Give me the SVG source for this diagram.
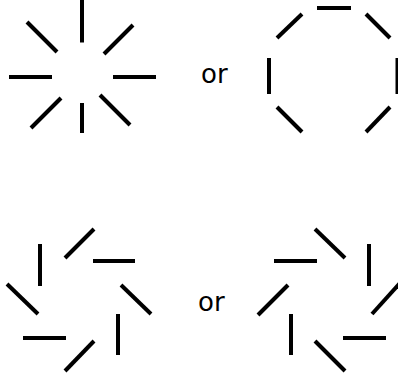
<svg xmlns="http://www.w3.org/2000/svg" width="398" height="379" viewBox="0 0 398 379">
<style>
line{stroke:#000;stroke-width:4;stroke-linecap:butt}
text{font-family:"DejaVu Sans",sans-serif;font-size:26px;fill:#000}
</style>
<rect width="398" height="379" fill="#fff"/>
<g id="burst">
<line x1="82" y1="0" x2="82" y2="42.5"/>
<line x1="27" y1="22" x2="57" y2="52"/>
<line x1="133" y1="25" x2="104" y2="54"/>
<line x1="9" y1="77" x2="52" y2="77"/>
<line x1="113" y1="77" x2="156" y2="77"/>
<line x1="61" y1="98" x2="31" y2="128"/>
<line x1="82" y1="103" x2="82" y2="133"/>
<line x1="100" y1="95" x2="130" y2="125"/>
</g>
<g id="or1"><text x="201" y="83">or</text></g>
<g id="octagon">
<line x1="317" y1="8" x2="351" y2="8"/>
<line x1="277" y1="38" x2="302" y2="14"/>
<line x1="366" y1="14" x2="390" y2="38"/>
<line x1="269" y1="58" x2="269" y2="94"/>
<line x1="397.5" y1="58" x2="397.5" y2="94"/>
<line x1="277" y1="107" x2="302" y2="132"/>
<line x1="366" y1="132" x2="390" y2="107"/>
</g>
<g id="spiral-left">
<line x1="40" y1="244" x2="40" y2="286"/>
<line x1="94" y1="229" x2="65" y2="258"/>
<line x1="93" y1="261" x2="135" y2="261"/>
<line x1="121" y1="285" x2="151" y2="314"/>
<line x1="118" y1="314" x2="118" y2="355"/>
<line x1="94" y1="341" x2="65" y2="371"/>
<line x1="23" y1="338" x2="66" y2="338"/>
<line x1="7" y1="284" x2="38" y2="314"/>
</g>
<g id="or2"><text x="198" y="311">or</text></g>
<g id="spiral-right">
<line x1="274" y1="261" x2="317" y2="261"/>
<line x1="315" y1="229" x2="345" y2="258"/>
<line x1="369" y1="244" x2="369" y2="286"/>
<line x1="372" y1="314" x2="401" y2="282"/>
<line x1="343" y1="338" x2="386" y2="338"/>
<line x1="315" y1="341" x2="345" y2="371"/>
<line x1="291" y1="314" x2="291" y2="355"/>
<line x1="258" y1="315" x2="288" y2="285"/>
</g>
</svg>
